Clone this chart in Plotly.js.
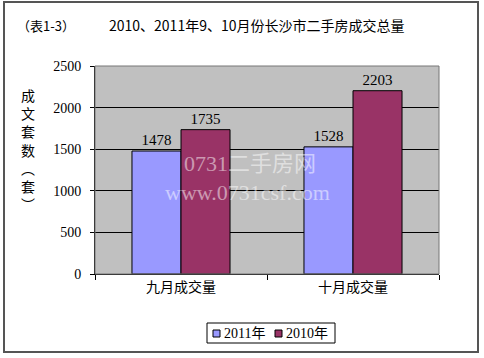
<!DOCTYPE html>
<html><head><meta charset="utf-8">
<script src="https://cdn.plot.ly/plotly-3.0.1.min.js"></script>
<style>html,body{margin:0;padding:0;background:#fff}#chart{width:484px;height:358px}</style>
</head><body><div id="chart"></div>
<script>
const categories = ["九月成交量", "十月成交量"];
const seriesNames = ["2011年", "2010年"];
const values2011 = [1478, 1528];
const values2010 = [1735, 2203];
const yTicks = [0, 500, 1000, 1500, 2000, 2500];
const colors = ['#9999FF', '#993366'];

const FONT = "'Liberation Serif', 'Noto Sans CJK SC', serif";
const CJK = "'Noto Sans CJK SC', 'Liberation Serif', sans-serif";

const traces = [values2011, values2010].map((vals, i) => ({
  type:'bar', name:seriesNames[i], x:categories, y:vals, text:vals.map(String),
  textposition:'outside', cliponaxis:false, textfont:{family:FONT,size:15,color:'#000'},
  marker:{color:colors[i], line:{color:'#000', width:1}}
}));

const px = p => (p-95)/344, py = p => (274-p)/208;

// custom compact legend (Excel style)
const legendShapes = [
  {type:'rect', xref:'paper', yref:'paper', x0:px(207), x1:px(335), y0:py(343), y1:py(323),
   line:{color:'#000', width:1}, fillcolor:'#fff'}
];
const legendAnns = [];
const legX = [213, 275];
seriesNames.forEach((n, i) => {
  legendShapes.push({type:'rect', xref:'paper', yref:'paper', x0:px(legX[i]), x1:px(legX[i]+7),
    y0:py(337), y1:py(330), line:{color:'#000', width:1}, fillcolor:colors[i]});
  legendAnns.push({xref:'paper', yref:'paper', x:px(legX[i]+9), y:py(333.5), xanchor:'left', yanchor:'middle',
    text:n, showarrow:false, font:{family:FONT, size:14}});
});

const layout = {
  width:484, height:358,
  margin:{l:95, r:45, t:66, b:84, autoexpand:false},
  paper_bgcolor:'#fff', plot_bgcolor:'#C0C0C0',
  barmode:'group', bargap:0.43, bargroupgap:0,
  font:{family:FONT, size:13, color:'#000'},
  showlegend:false,
  xaxis:{type:'category', showline:true, linecolor:'#000', linewidth:1, mirror:false,
    ticks:'outside', tickson:'boundaries', ticklen:5, tickcolor:'#000',
    tickfont:{family:CJK, size:14}, showgrid:false, fixedrange:true},
  yaxis:{range:[0,2500], tickvals:yTicks, ticktext:yTicks.map(String), showline:true,
    linecolor:'#000', linewidth:1, ticks:'outside', ticklen:4, tickcolor:'#000',
    gridcolor:'#000', gridwidth:1, zeroline:false, tickfont:{family:FONT, size:14}, ticklabelstandoff:6},
  shapes:[
    {type:'rect', xref:'paper', yref:'paper', x0:px(4), x1:px(478), y0:py(352), y1:py(2),
     line:{color:'#555', width:2}, fillcolor:'rgba(0,0,0,0)', layer:'below'},
    {type:'rect', xref:'paper', yref:'paper', x0:0, x1:1, y0:0, y1:1,
     line:{color:'#777', width:1}, fillcolor:'rgba(0,0,0,0)'}
  ].concat(legendShapes),
  annotations:[
    {xref:'paper', yref:'paper', x:px(15), y:py(25), xanchor:'left', yanchor:'middle',
     text:'（表1-3）', showarrow:false, font:{family:CJK, size:13}},
    {xref:'paper', yref:'paper', x:px(107), y:py(25), xanchor:'left', yanchor:'middle',
     text:'2010、2011年9、10月份长沙市二手房成交总量', showarrow:false, font:{family:CJK, size:14}},
    {xref:'paper', yref:'paper', x:px(28), y:py(149), xanchor:'center', yanchor:'middle',
     text:'成<br>文<br>套<br>数<br>︵<br>套<br>︶', showarrow:false, font:{family:CJK, size:14}},
    {xref:'paper', yref:'paper', x:px(250), y:py(163), xanchor:'center', yanchor:'middle',
     text:'0731二手房网', showarrow:false, font:{family:FONT, size:22, color:'rgba(255,255,255,0.5)'}},
    {xref:'paper', yref:'paper', x:px(247), y:py(192), xanchor:'center', yanchor:'middle',
     text:'www.0731csf.com', showarrow:false, font:{family:FONT, size:22, color:'rgba(255,255,255,0.5)'}}
  ].concat(legendAnns)
};

Plotly.newPlot('chart', traces, layout, {displayModeBar:false, staticPlot:true});
</script></body></html>
